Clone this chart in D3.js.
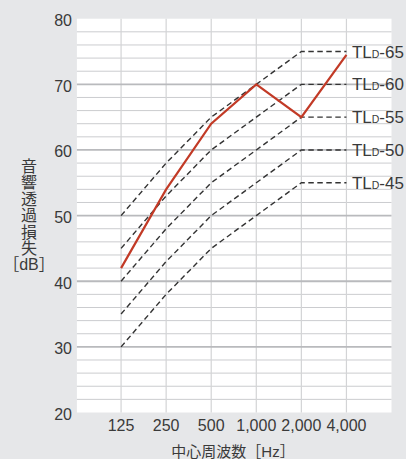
<!DOCTYPE html>
<html><head><meta charset="utf-8">
<script src="https://cdn.jsdelivr.net/npm/d3@7"></script>
<style>
html,body{margin:0;padding:0;background:#e6e7e9;}
svg{display:block;}
text{font-family:"Liberation Sans","Noto Sans CJK JP",sans-serif;fill:#3a3a3a;}
</style></head>
<body><svg id="c" width="406" height="459"></svg>
<script>
const frequencies = ["125","250","500","1,000","2,000","4,000"];
const measured = [42, 54, 64, 70, 65, 74.5];
const curveRatings = [65, 60, 55, 50, 45];
const curveOffsets = [-15, -7, 0, 5, 10, 10];
const yTicks = [20, 30, 40, 50, 60, 70, 80];
const yTitleChars = ["音","響","透","過","損","失"];
const yTitleUnit = "［dB］";
const xTitle = "中心周波数［Hz］";

const svg = d3.select("#c");
const x = d3.scaleLinear().domain([-1, 6]).range([76, 391.5]);
const y = d3.scaleLinear().domain([20, 80]).range([412.5, 18.7]);

// plot background
svg.append("rect").attr("x", x(-0.98)).attr("y", y(80))
  .attr("width", x(6) - x(-0.98)).attr("height", y(20) - y(80)).attr("fill", "#fff");

// minor horizontal grid
const minor = d3.range(22, 80, 2).filter(v => v % 10 !== 0);
svg.append("g").selectAll("line").data(minor).join("line")
  .attr("x1", x(-0.98)).attr("x2", x(6))
  .attr("y1", d => y(d)).attr("y2", d => y(d))
  .attr("stroke", "#cbcccf").attr("stroke-width", 1);
// vertical grid
svg.append("g").selectAll("line").data(frequencies).join("line")
  .attr("x1", (d, i) => x(i)).attr("x2", (d, i) => x(i))
  .attr("y1", y(80)).attr("y2", y(20))
  .attr("stroke", "#d3d4d6").attr("stroke-width", 1.2);
// major horizontal grid
svg.append("g").selectAll("line").data(yTicks.filter(v => v > 20 && v < 80)).join("line")
  .attr("x1", x(-0.98)).attr("x2", x(6))
  .attr("y1", d => y(d)).attr("y2", d => y(d))
  .attr("stroke", "#b9babd").attr("stroke-width", 1.8);

// y tick labels
svg.append("g").selectAll("text").data(yTicks).join("text")
  .attr("x", 72).attr("y", d => y(d) + (d === 20 ? 7.8 : 7.4))
  .attr("text-anchor", "end").attr("font-size", 16).text(d => d);

// x tick labels
svg.append("g").selectAll("text").data(frequencies).join("text")
  .attr("x", (d, i) => x(i)).attr("y", 431)
  .attr("text-anchor", "middle").attr("font-size", 16).text(d => d);

// reference curves
const line = d3.line().x((d, i) => x(i)).y(d => y(d));
const curves = curveRatings.map(r => ({r, vals: curveOffsets.map(o => r + o)}));
svg.append("g").selectAll("path").data(curves).join("path")
  .attr("d", d => line(d.vals)).attr("fill", "none")
  .attr("stroke", "#333").attr("stroke-width", 1.4)
  .attr("stroke-dasharray", "5.5,3.5");

// curve labels
const lab = svg.append("g").selectAll("text").data(curves).join("text")
  .attr("x", x(5) + 5.5).attr("y", d => y(d.vals[5]) + 6)
  .attr("font-size", 17);
lab.append("tspan").text("TL");
lab.append("tspan").attr("font-size", 10.5).text("D");
lab.append("tspan").text(d => "-" + d.r);

// measured
svg.append("path").attr("d", line(measured)).attr("fill", "none")
  .attr("stroke", "#c23a26").attr("stroke-width", 2.2).attr("stroke-linejoin", "miter");

// y title
const yt = svg.append("text").attr("font-size", 16).attr("text-anchor", "middle")
  .attr("font-family", "'Noto Sans CJK JP',sans-serif");
yTitleChars.forEach((c, i) => {
  yt.append("tspan").attr("x", 29).attr("y", 171.5 + i * 16.5).text(c);
});
yt.append("tspan").attr("x", 29).attr("y", 171.5 + 6 * 16.5 - 1).text(yTitleUnit);

// x title
svg.append("text").attr("x", 233).attr("y", 457).attr("text-anchor", "middle")
  .attr("font-size", 15).attr("font-family", "'Noto Sans CJK JP',sans-serif").text(xTitle);
</script></body></html>
